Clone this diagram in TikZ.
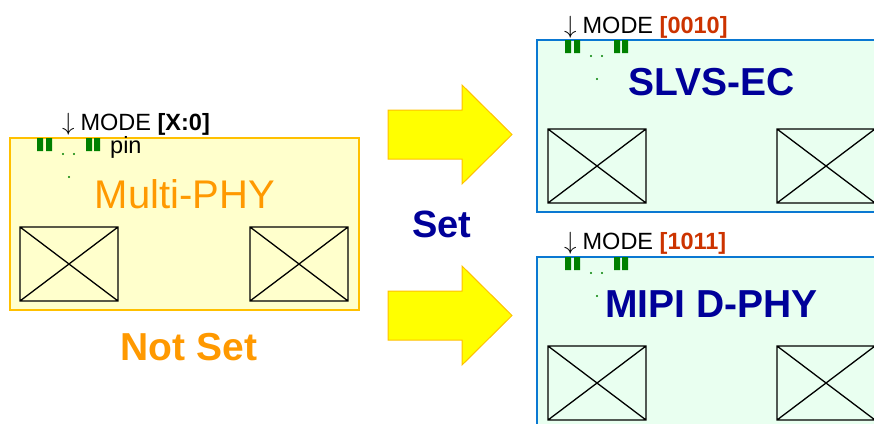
\documentclass[tikz,border=0pt]{standalone}
\usepackage{fontspec}
\setmainfont{Liberation Sans}
\definecolor{boxorange}{HTML}{FFC000}
\definecolor{lightyellow}{HTML}{FFFFCC}
\definecolor{phyorange}{HTML}{FF9900}
\definecolor{lightgreen}{HTML}{E9FFF0}
\definecolor{boxblue}{HTML}{0A78D2}
\definecolor{navy}{HTML}{000099}
\definecolor{codered}{HTML}{CC3300}
\definecolor{pingreen}{HTML}{008000}
\definecolor{arrowyellow}{HTML}{FFFF00}
\begin{document}
\begin{tikzpicture}[x=1pt,y=-1pt,
  leftbox/.style={draw=boxorange,fill=lightyellow,line width=1.5pt},
  rightbox/.style={draw=boxblue,fill=lightgreen,line width=1.5pt},
  xbox/.style={draw=black,line width=1.3pt},
  bigarrow/.style={draw=boxorange,fill=arrowyellow,line width=1pt,line join=miter},
  modetext/.style={anchor=base west,inner sep=0pt,font=\fontsize{23.5}{23.5}\selectfont},
  label/.style={anchor=base,inner sep=0pt,font=\fontsize{39}{39}\selectfont\bfseries},
  pinset/.pic={
    \fill[pingreen] (0,0) rectangle (6,13) (9,0) rectangle (15,13)
                    (49,0) rectangle (55,13) (57,0) rectangle (63,13);
    \fill[pingreen] (26,16) circle (1.1) (37,16) circle (1.1) (32,39) circle (1.1);
  }]
\useasboundingbox (0,0) rectangle (874,423);
\clip (0,0) rectangle (874,423);

% left box
\draw[leftbox] (10,138) rectangle (359,310);
\foreach \x in {20,250}{
  \draw[xbox] (\x,227) rectangle ++(98,74) (\x,227) -- ++(98,74) (\x,301) -- ++(98,-74);
}
\pic at (37,138) {pinset};
\node[modetext] (modeL) at (62,130) {$\downarrow$\hspace{6pt}MODE \textbf{[X:0]}};
\node[modetext] (pin) at (110,153) {pin};
\node[anchor=base,inner sep=0pt,text=phyorange,font=\fontsize{40}{40}\selectfont] (multi) at (185,208) {Multi-PHY};
\node[label,text=phyorange] (notset) at (189,360) {Not Set};

% arrows
\draw[bigarrow] (388,110) -- (462,110) -- (462,85) -- (512,134.5) -- (462,184) -- (462,159) -- (388,159) -- cycle;
\draw[bigarrow] (388,291) -- (462,291) -- (462,266) -- (512,315.5) -- (462,365) -- (462,340) -- (388,340) -- cycle;
\node[anchor=base,inner sep=0pt,text=navy,font=\fontsize{38}{38}\selectfont\bfseries] (set) at (442,237) {Set};

% right top box
\draw[rightbox] (537,40) rectangle (890,212);
\foreach \x in {548,777}{
  \draw[xbox] (\x,129) rectangle ++(98,74) (\x,129) -- ++(98,74) (\x,203) -- ++(98,-74);
}
\pic at (565,40) {pinset};
\node[modetext] (modeT) at (564,33) {$\downarrow$\hspace{6pt}MODE \textcolor{codered}{\textbf{[0010]}}};
\node[label,text=navy] (slvs) at (712,95) {SLVS-EC};

% right bottom box
\draw[rightbox] (537,257) rectangle (890,440);
\foreach \x in {548,777}{
  \draw[xbox] (\x,346) rectangle ++(98,74) (\x,346) -- ++(98,74) (\x,420) -- ++(98,-74);
}
\pic at (565,257) {pinset};
\node[modetext] (modeB) at (564,249) {$\downarrow$\hspace{6pt}MODE \textcolor{codered}{\textbf{[1011]}}};
\node[label,text=navy] (mipi) at (711.5,317) {MIPI D-PHY};
\end{tikzpicture}
\end{document}
